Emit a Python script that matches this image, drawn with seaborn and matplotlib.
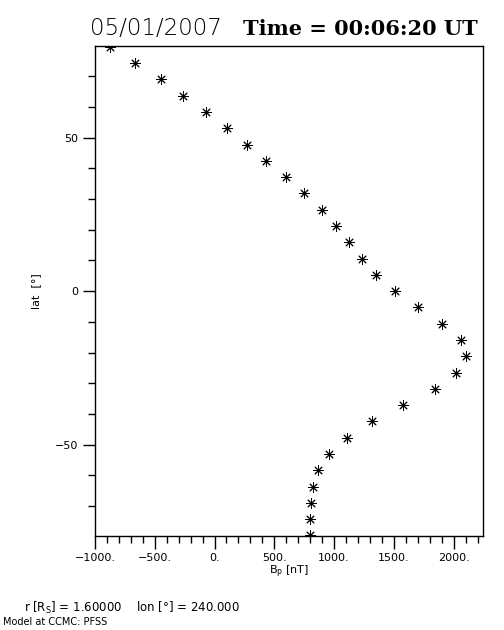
import numpy as np
import pandas as pd
import seaborn as sns
import matplotlib
matplotlib.use('Agg')
import matplotlib.pyplot as plt
from matplotlib.ticker import MultipleLocator

# values
lat = [79.5, 74.2, 68.9, 63.6, 58.3, 53.0, 47.7, 42.4, 37.1, 31.8, 26.5,
       21.2, 15.9, 10.6, 5.3, 0.0, -5.3, -10.6, -15.9, -21.2, -26.5, -31.8,
       -37.1, -42.4, -47.7, -53.0, -58.3, -63.6, -68.9, -74.2, -79.5]
bp = [-872, -663, -450, -260, -73, 103, 271, 430, 601, 749, 900,
      1018, 1127, 1231, 1351, 1513, 1706, 1907, 2058, 2100, 2024, 1843,
      1580, 1320, 1110, 959, 867, 822, 808, 800, 800]
xticks = [-1000, -500, 0, 500, 1000, 1500, 2000]
xticklabels = ['\u22121000.', '\u2212500.', '0.', '500.', '1000.', '1500.', '2000.']
yticks = [-50, 0, 50]
yticklabels = ['\u221250', '0', '50']

df = pd.DataFrame({'bp': bp, 'lat': lat})

sns.set_style('ticks', {'axes.edgecolor': 'black', 'xtick.color': 'black',
                        'ytick.color': 'black', 'text.color': 'black',
                        'axes.labelcolor': 'black'})
plt.rcParams['font.family'] = ['DejaVu Sans']

fig = plt.figure(figsize=(5.04, 6.3), dpi=100)
ax = fig.add_axes([0.1885, 0.1492, 0.7708, 0.7778])

sns.scatterplot(data=df, x='bp', y='lat', marker=(8, 2, 0), color='black',
                edgecolor='black', s=48, linewidth=0.7, ax=ax, legend=False)

ax.set_xlim(-1000, 2250)
ax.set_ylim(-79.7, 79.8)
ax.set_xticks(xticks)
ax.set_xticklabels(xticklabels, fontsize=8)
ax.set_yticks(yticks)
ax.set_yticklabels(yticklabels, fontsize=8)
ax.xaxis.set_minor_locator(MultipleLocator(100))
ax.yaxis.set_minor_locator(MultipleLocator(10))
ax.tick_params(which='major', direction='out', length=9, width=1, pad=3,
               colors='black')
ax.tick_params(which='minor', direction='out', length=5, width=1,
               colors='black')
for s in ax.spines.values():
    s.set_linewidth(1)
    s.set_color('black')
    s.set_visible(True)

ax.set_xlabel('B$_\\mathregular{p}$ [nT]', fontsize=8, labelpad=1, color='black')
ax.set_ylabel('lat  [\u00b0]', fontsize=8, labelpad=10, color='black')

fig.text(0.178, 0.944, '05/01/2007', fontsize=16.5, ha='left', va='baseline',
         family='DejaVu Sans', fontweight='light', color='black')
fig.text(0.482, 0.944, 'Time = 00:06:20 UT', fontsize=15, ha='left',
         va='baseline', family='DejaVu Serif', fontweight='bold', color='black')

fig.text(0.047, 0.035, 'r [R$_\\mathregular{S}$] = 1.60000    lon [\u00b0] = 240.000',
         fontsize=8.5, ha='left', va='center', color='black')
fig.text(0.005, 0.013, 'Model at CCMC: PFSS', fontsize=7, ha='left',
         va='center', color='black')

plt.savefig('out.png', dpi=100)
